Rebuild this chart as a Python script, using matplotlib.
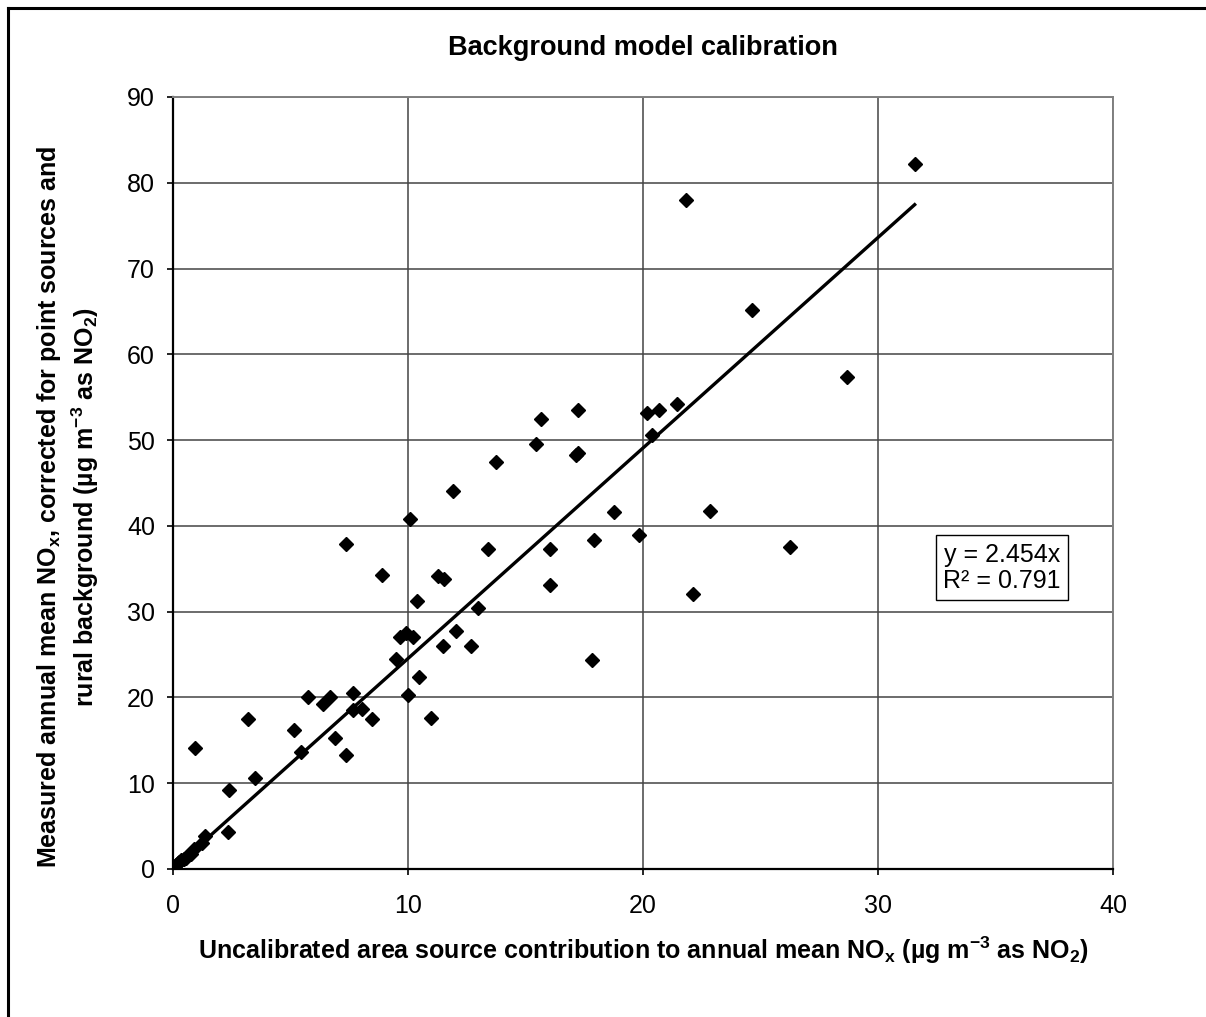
import matplotlib
matplotlib.use("Agg")
import matplotlib.pyplot as plt
import numpy as np
from matplotlib.lines import Line2D

plt.rcParams['font.family'] = ['Liberation Sans', 'DejaVu Sans']
plt.rcParams['mathtext.fontset'] = 'custom'
plt.rcParams['mathtext.rm'] = 'Liberation Sans'
plt.rcParams['mathtext.bf'] = 'Liberation Sans:bold'

# uncalibrated area source contribution (x) vs measured corrected NOx (y)
x_area = [31.56, 21.84, 24.65, 28.67, 15.67, 17.25, 20.18, 20.68, 21.43, 15.46,
          17.13, 17.25, 20.37, 13.74, 18.77, 22.84, 16.03, 17.90, 19.83, 26.26,
          16.03, 22.13, 17.82,
          11.93, 10.08, 7.35, 13.39, 8.90, 11.28, 11.53, 10.38, 12.96, 9.65,
          9.93, 10.21, 12.03, 11.49, 12.70, 9.48, 10.47, 5.75, 6.67, 7.64, 10.00,
          6.38, 7.68, 8.03, 8.45, 10.97, 3.20, 5.15, 6.90, 0.92, 5.46, 7.36,
          3.51, 2.38, 2.35, 1.36, 1.24,
          0.89, 0.75, 0.61, 0.47, 0.35, 0.25, 0.11, 0.20, 0.55]
y_meas = [82.2, 78.0, 65.2, 57.3, 52.5, 53.5, 53.2, 53.5, 54.2, 49.6,
          48.3, 48.5, 50.6, 47.4, 41.6, 41.7, 37.3, 38.4, 38.9, 37.5,
          33.1, 32.1, 24.4,
          44.1, 40.8, 37.9, 37.3, 34.3, 34.2, 33.8, 31.2, 30.4, 27.1,
          27.5, 27.0, 27.8, 26.0, 26.0, 24.5, 22.4, 20.0, 20.0, 20.5, 20.3,
          19.2, 18.5, 18.6, 17.5, 17.6, 17.5, 16.2, 15.3, 14.1, 13.6, 13.3,
          10.6, 9.2, 4.3, 3.9, 3.0,
          2.3, 1.8, 1.5, 1.2, 1.0, 0.8, 0.5, 0.7, 1.3]

slope = 2.454
r2 = 0.791

fig = plt.figure(figsize=(12.06, 10.17), dpi=100)
ax = fig.add_axes([173/1206, 1-869/1017, 940/1206, 772/1017])

ax.plot(x_area, y_meas, linestyle='none', marker='D', markersize=7.5,
        color='black', zorder=3)
xl = np.array([0, max(x_area)])
ax.plot(xl, slope*xl, color='black', linewidth=2.4, zorder=4)

ax.set_xlim(0, 40)
ax.set_ylim(0, 90)
ax.set_xticks([0, 10, 20, 30, 40])
ax.set_yticks(range(0, 91, 10))
ax.grid(True, color='#444444', linewidth=1.1)
ax.set_axisbelow(True)
for s in ['top', 'right']:
    ax.spines[s].set_color('#808080')
    ax.spines[s].set_linewidth(1.4)
for s in ['left', 'bottom']:
    ax.spines[s].set_color('black')
    ax.spines[s].set_linewidth(1.6)
ax.tick_params(axis='y', direction='out', length=4, width=1.2, pad=9, labelsize=18)
ax.tick_params(axis='x', direction='out', length=4, width=1.2, pad=14, labelsize=18)

ax.set_title('Background model calibration', fontsize=19.5, fontweight='bold', pad=30)
ax.set_xlabel(r'Uncalibrated area source contribution to annual mean NO$_\mathbf{x}$ '
              r'(µg m$^\mathbf{-3}$ as NO$_\mathbf{2}$)',
              fontsize=18, fontweight='bold', labelpad=12)
ax.set_ylabel('Measured annual mean NO$_\\mathbf{x}$, corrected for point sources and\n'
              'rural background (µg m$^\\mathbf{-3}$ as NO$_\\mathbf{2}$)',
              fontsize=18, fontweight='bold', linespacing=1.25)
ax.yaxis.set_label_coords(-0.077, 0.469)

ax.text(0.882, 0.39, f'y = {slope:.3f}x\nR² = {r2:.3f}',
        transform=ax.transAxes, ha='center', va='center', fontsize=18,
        linespacing=1.1,
        bbox=dict(boxstyle='square,pad=0.3', facecolor='white', edgecolor='black', linewidth=1))

# outer chart border (left and top edges visible)
fig.add_artist(Line2D([8/1206, 8/1206], [0, 1-8/1017], color='black', linewidth=2.2,
                      transform=fig.transFigure))
fig.add_artist(Line2D([8/1206, 1], [1-8/1017, 1-8/1017], color='black', linewidth=2.2,
                      transform=fig.transFigure))

fig.savefig('out.png', dpi=100)
